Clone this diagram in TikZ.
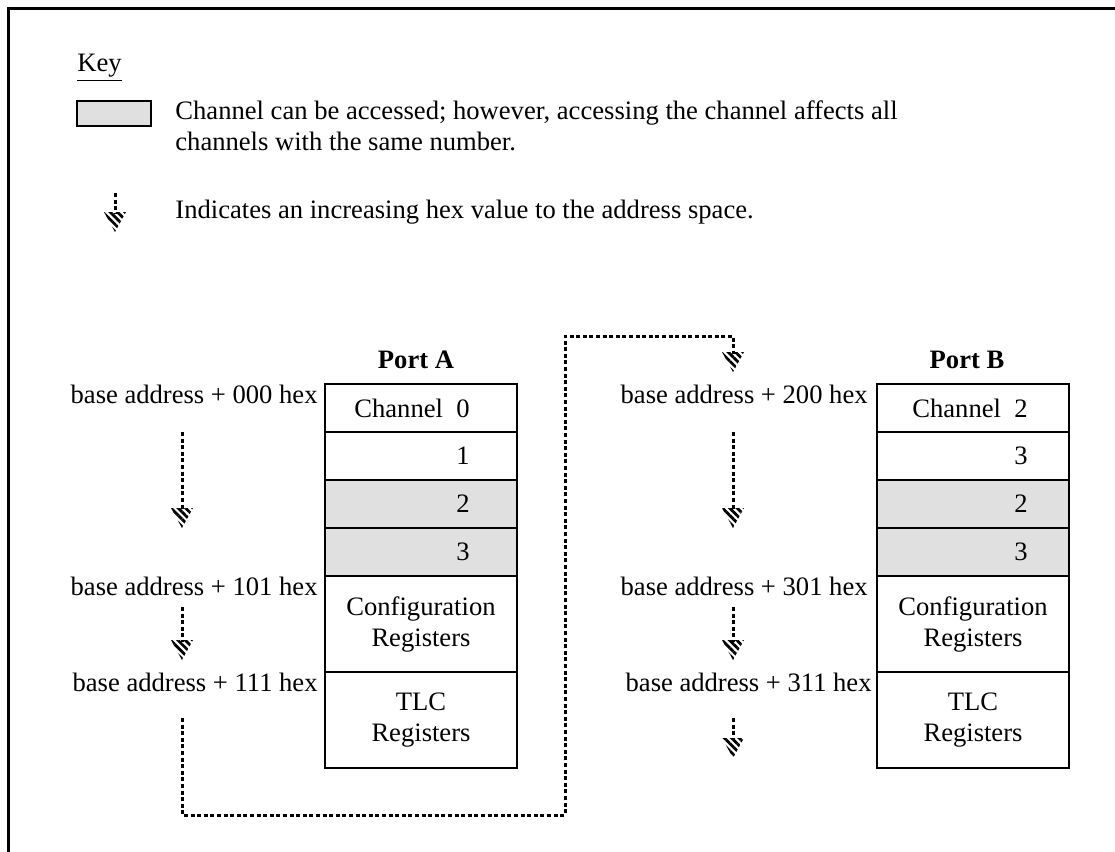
\documentclass[tikz,border=0pt]{standalone}
\usepackage{fontspec}
\setmainfont{Liberation Serif}
\usetikzlibrary{calc,patterns.meta}

% hatched head of an address arrow, tip at #1
\newcommand{\hexhead}[1]{\fill[hatch] (#1) -- ++(-11,-20) -- ++(22,0) -- cycle;}

\begin{document}
\begin{tikzpicture}[x=0.5pt, y=-0.5pt, inner sep=0pt, font=\fontsize{13.3pt}{15.5pt}\selectfont]
        \tikzstyle{cell} = [draw=black, line width=1.3pt, minimum width=96pt, minimum height=24pt]
        \tikzstyle{shared} = [cell, fill=black!12]
        \tikzstyle{addr} = [anchor=base east]
        \tikzstyle{num} = [anchor=east]
        \tikzstyle{rope} = [line width=1.5pt, dash pattern=on 2pt off 1.3pt]
        \tikzstyle{hatch} = [pattern={Lines[angle=-45,distance=2.6pt,line width=1.4pt]}]
        \useasboundingbox (0,0) rectangle (1115,852);
        \draw[line width=1.5pt] (8.5,852) -- (8.5,8.5) -- (1115,8.5);

        % key
        \node[anchor=west] (key) at (77,68) {\underline{Key}};
        \node[shared, minimum width=37pt, minimum height=12.5pt] (keybox) at (114,113.5) {};
        \node[anchor=west, align=left] (keytext) at (175,126) {Channel can be accessed; however, accessing the channel affects all\\channels with the same number.};
        \coordinate (ks) at (115,193);
        \coordinate (kt) at (115,232);
        \draw[rope] (ks) -- ($(kt)+(0,-18)$);
        \hexhead{kt}
        \node[anchor=west] (keyarrow) at (175,212) {Indicates an increasing hex value to the address space.};

        % port A
        \node (porta) at (416,360) {\bfseries Port A};
        \node[cell] (a0) at (421,408) {};
        \node[cell] (a1) at (421,456) {};
        \node[shared] (a2) at (421,504) {};
        \node[shared] (a3) at (421,552) {};
        \node[cell, minimum height=48pt] (a4) at (421,624) {};
        \node[cell, minimum height=48pt] (a5) at (421,720) {};
        \node[num] (a0n) at (470,408) {Channel\ \ 0};
        \node[num] (a1n) at (470,456) {1};
        \node[num] (a2n) at (470,504) {2};
        \node[num] (a3n) at (470,552) {3};
        \node[align=center] (a4n) at (a4) {Configuration\\Registers};
        \node[align=center] (a5n) at (a5) {TLC\\Registers};
        \node[addr] (a0a) at (318,403) {base address + 000 hex};
        \node[addr] (a4a) at (318,595) {base address + 101 hex};
        \node[addr] (a5a) at (318,691) {base address + 111 hex};

        % port B
        \node (portb) at (967,360) {\bfseries Port B};
        \node[cell] (b0) at (973,408) {};
        \node[cell] (b1) at (973,456) {};
        \node[shared] (b2) at (973,504) {};
        \node[shared] (b3) at (973,552) {};
        \node[cell, minimum height=48pt] (b4) at (973,624) {};
        \node[cell, minimum height=48pt] (b5) at (973,720) {};
        \node[num] (b0n) at (1028,408) {Channel\ \ 2};
        \node[num] (b1n) at (1028,456) {3};
        \node[num] (b2n) at (1028,504) {2};
        \node[num] (b3n) at (1028,552) {3};
        \node[align=center] (b4n) at (b4) {Configuration\\Registers};
        \node[align=center] (b5n) at (b5) {TLC\\Registers};
        \node[addr] (b0a) at (868,403) {base address + 200 hex};
        \node[addr] (b4a) at (868,595) {base address + 301 hex};
        \node[addr] (b5a) at (872,691) {base address + 311 hex};

        % address arrows
        \coordinate (a1s) at (182,432);
        \coordinate (a1t) at (182,528);
        \coordinate (a2s) at (182,607);
        \coordinate (a2t) at (182,660);
        \coordinate (a3s) at (182,718);
        \coordinate (c1) at (182,815);
        \coordinate (c2) at (565,815);
        \coordinate (c3) at (565,336);
        \coordinate (c4) at (733,336);
        \coordinate (b0t) at (733,372);
        \coordinate (b1s) at (733,432);
        \coordinate (b1t) at (733,528);
        \coordinate (b2s) at (733,607);
        \coordinate (b2t) at (733,660);
        \coordinate (b3s) at (733,718);
        \coordinate (b3t) at (733,758);
        \draw[rope] (a1s) -- ($(a1t)+(0,-18)$);
        \draw[rope] (a2s) -- ($(a2t)+(0,-18)$);
        \draw[rope] (a3s) -- (c1) -- (c2) -- (c3) -- (c4) -- ($(b0t)+(0,-18)$);
        \draw[rope] (b1s) -- ($(b1t)+(0,-18)$);
        \draw[rope] (b2s) -- ($(b2t)+(0,-18)$);
        \draw[rope] (b3s) -- ($(b3t)+(0,-18)$);
        \hexhead{a1t}
        \hexhead{a2t}
        \hexhead{b0t}
        \hexhead{b1t}
        \hexhead{b2t}
        \hexhead{b3t}
\end{tikzpicture}
\end{document}
